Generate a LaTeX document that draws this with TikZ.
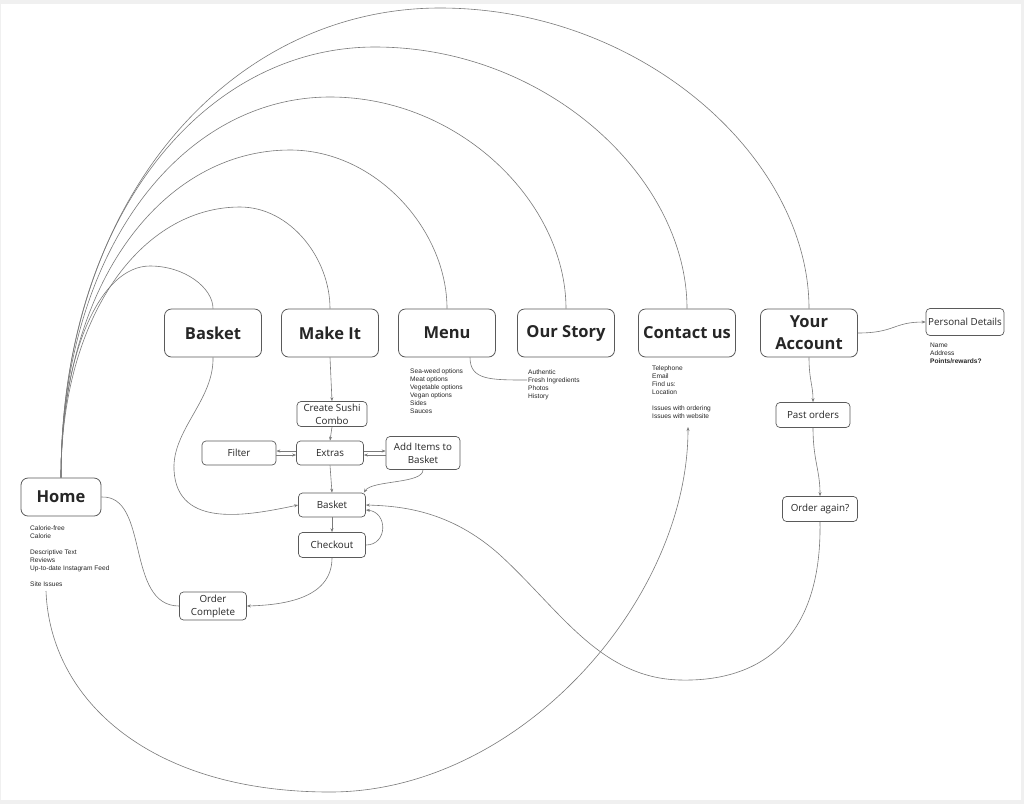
\documentclass[tikz,border=0pt]{standalone}
\usepackage{fontspec}
\setmainfont{Open Sans}
\newfontfamily\notefont{Liberation Sans}
\usetikzlibrary{arrows.meta,calc}
\definecolor{linec}{HTML}{7A7A7A}
\definecolor{boxc}{HTML}{5A5A5A}
\definecolor{txtc}{HTML}{262626}
\tikzset{
  bigbox/.style={draw=boxc, line width=0.8pt, rounded corners=7pt, minimum width=97pt, minimum height=48pt, inner sep=0pt, align=center, text=txtc, font=\fontsize{16.5}{22}\selectfont\bfseries},
  smallbox/.style={draw=boxc, line width=0.7pt, rounded corners=4pt, minimum height=24pt, inner sep=0pt, align=center, text=txtc, font=\fontsize{9.8}{13}\selectfont},
  note/.style={anchor=north west, inner sep=0pt, align=left, text=txtc, font=\notefont\fontsize{6.6}{8}\selectfont},
  conn/.style={draw=linec, line width=0.6pt},
  arr/.style={conn, -{Stealth[length=4pt,width=3pt]}}
}
\begin{document}
\begin{tikzpicture}[x=1pt,y=-1pt]
\useasboundingbox (0,0) rectangle (1024,804);
\fill[gray!12] (0,0) rectangle (1024,804);
\fill[white] (1,4) rectangle (1021,800);

% main nodes
\node[bigbox, minimum width=80pt, minimum height=38pt] (home) at (61,497) {Home};
\node[bigbox] (basket) at (213,333) {Basket};
\node[bigbox] (makeit) at (330,333) {Make It};
\node[bigbox] (menu) at (447,333) {Menu};
\node[bigbox] (story) at (566,333) {Our Story};
\node[bigbox] (contact) at (687,333) {Contact us};
\node[bigbox] (account) at (809,333) {Your\\Account};
\node[smallbox, minimum width=78pt, minimum height=27pt] (pd) at (965,322) {Personal Details};

\node[smallbox, minimum width=70pt, minimum height=25pt] (combo) at (332,414) {Create Sushi\\Combo};
\node[smallbox, minimum width=74pt] (filter) at (239,453) {Filter};
\node[smallbox, minimum width=67pt] (extras) at (330,453) {Extras};
\node[smallbox, minimum width=74pt, minimum height=33pt] (additems) at (423,453) {Add Items to\\Basket};
\node[smallbox, minimum width=67pt] (bsk) at (332,505) {Basket};
\node[smallbox, minimum width=67pt, minimum height=25pt] (chk) at (332,545) {Checkout};
\node[smallbox, minimum width=67pt, minimum height=28pt] (oc) at (213,606) {Order\\Complete};
\node[smallbox, minimum width=74pt, minimum height=25pt] (po) at (813,415) {Past orders};
\node[smallbox, minimum width=75pt, minimum height=25pt] (oa) at (820,509) {Order again?};

% notes
\node[note] (homenote) at (30,526) {Calorie-free\\Calorie\\[8pt]Descriptive Text\\Reviews\\Up-to-date Instagram Feed\\[8pt]Site Issues};
\node[note] (menunote) at (410,369) {Sea-weed options\\Meat options\\Vegetable options\\Vegan options\\Sides\\Sauces};
\node[note] (storynote) at (528,370) {Authentic\\Fresh Ingredients\\Photos\\History};
\node[note] (contactnote) at (652,366) {Telephone\\Email\\Find us:\\Location\\[8pt]Issues with ordering\\Issues with website};
\node[note] (pdnote) at (930,343) {Name\\Address\\\textbf{Points/rewards?}};

\coordinate (siteStart) at (46,591);
\coordinate (contactEnd) at (688,427);
\coordinate (freshIn) at (527,380);

% arches from Home
\draw[conn] (home.north) .. controls (61,351) and (101,266) .. (150,266) .. controls (185,266) and (213,288) .. (basket.north);
\draw[conn] (home.north) .. controls (61,315) and (142,207) .. (240,207) .. controls (290,207) and (330,258) .. (makeit.north);
\draw[conn] (home.north) .. controls (61,281) and (164,150) .. (290,150) .. controls (376,150) and (447,230) .. (menu.north);
\draw[conn] (home.north) .. controls (61,249) and (182,97) .. (330,97) .. controls (460,97) and (566,203) .. (story.north);
\draw[conn] (home.north) .. controls (61,219) and (202,47) .. (375,47) .. controls (547,47) and (687,178) .. (contact.north);
\draw[conn] (home.north) .. controls (61,196) and (232,8) .. (440,8) .. controls (642,8) and (809,158) .. (account.north);

% Make It flow
\draw[arr] (makeit.south) -- (combo.north);
\draw[arr] (combo.south) -- (extras.north);
\draw[arr] ($(extras.west)+(0,-2)$) -- ($(filter.east)+(0,-2)$);
\draw[arr] ($(filter.east)+(0,2)$) -- ($(extras.west)+(0,2)$);
\draw[arr] ($(extras.east)+(0,-2)$) -- ($(additems.west)+(0,-2)$);
\draw[arr] ($(additems.west)+(0,2)$) -- ($(extras.east)+(0,2)$);
\draw[arr] (extras.south) -- (bsk.north);
\draw[arr] (additems.south) .. controls (423,484) and (372,480) .. ($(bsk.north east)+(-2,0)$);
\draw[arr] (bsk.south) -- (chk.north);
\draw[arr] (chk.east) .. controls (388,545) and (388,512) .. ($(bsk.east)+(0,5)$);
\draw[arr] (chk.south) .. controls (332,600) and (280,605) .. (oc.east);
\draw[conn] (home.east) .. controls (150,495) and (125,606) .. (oc.west);

% Basket (top) to Basket
\draw[arr] (basket.south) .. controls (214,400) and (172,430) .. (174,470) .. controls (177,530) and (250,515) .. (bsk.west);

% Menu to Our Story notes
\draw[conn] ($(menu.south)+(23,0)$) .. controls (470,380) and (490,380) .. (freshIn);

% Account flow
\draw[arr] (account.south) .. controls (809,380) and (813,385) .. (po.north);
\draw[arr] (po.south) .. controls (813,460) and (820,470) .. (oa.north);
\draw[arr] (account.east) .. controls (895,333) and (893,322) .. (pd.west);

% Order again back to Basket
\draw[arr] (oa.south) .. controls (822,640) and (760,682) .. (680,680) .. controls (600,678) and (560,610) .. (500,555) .. controls (450,510) and (400,506) .. (bsk.east);

% Site Issues to Contact notes
\draw[arr] (siteStart) .. controls (50,700) and (150,792) .. (330,792) .. controls (520,792) and (688,600) .. (contactEnd);
\end{tikzpicture}
\end{document}
